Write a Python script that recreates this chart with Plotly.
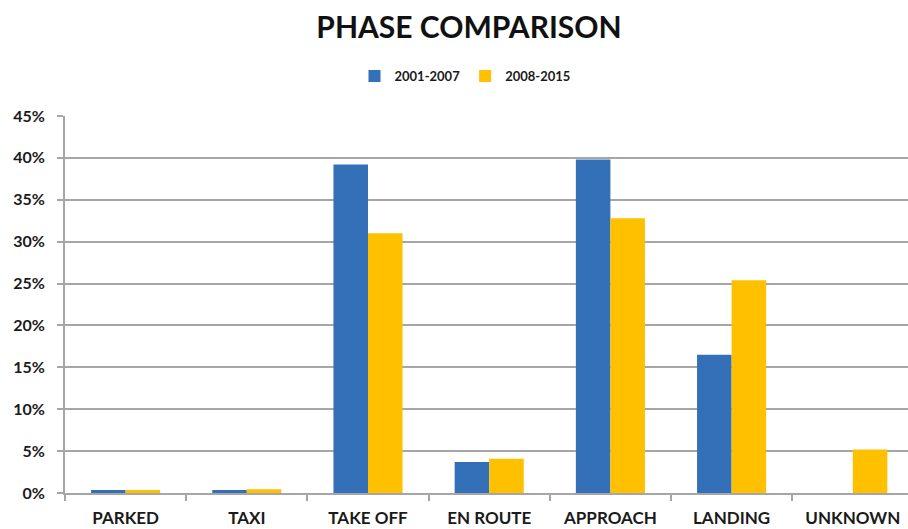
import plotly.graph_objects as go

categories = ["PARKED", "TAXI", "TAKE OFF", "EN ROUTE", "APPROACH", "LANDING", "UNKNOWN"]
series_2001_2007 = [0.35, 0.35, 39.2, 3.7, 39.8, 16.5, 0.0]
series_2008_2015 = [0.35, 0.45, 31.0, 4.1, 32.8, 25.4, 5.2]
y_ticks = [0, 5, 10, 15, 20, 25, 30, 35, 40, 45]
y_tick_labels = [f"{v}%" for v in y_ticks]

FONT = "Lato"
TXT = "#1a1a1a"

fig = go.Figure()
fig.add_trace(go.Bar(
    x=categories, y=series_2001_2007, name="2001-2007",
    marker=dict(color="#3470b8", line=dict(width=0)),
))
fig.add_trace(go.Bar(
    x=categories, y=series_2008_2015, name="2008-2015",
    marker=dict(color="#ffc000", line=dict(width=0)),
))

fig.update_layout(
    width=908, height=529,
    paper_bgcolor="white", plot_bgcolor="white",
    margin=dict(l=65, r=0, t=116, b=36, autoexpand=False),
    barmode="group", bargap=0.43, bargroupgap=0,
    font=dict(family=FONT, color=TXT),
    title=dict(
        text="<b>PHASE COMPARISON</b>",
        x=469 / 908, xref="container", xanchor="center",
        y=1 - 27 / 529, yref="container", yanchor="middle",
        font=dict(family=FONT, size=30, color="#111"),
    ),
    legend=dict(
        orientation="h",
        x=(465 - 65) / 843, xanchor="center",
        y=1 + (116 - 76) / 377, yanchor="middle",
        font=dict(family=FONT, size=13, color=TXT, weight="bold"),
        itemwidth=30, tracegroupgap=0,
        bgcolor="rgba(0,0,0,0)",
    ),
    showlegend=True,
)

fig.update_xaxes(
    range=[-0.5, -0.5 + 843 / 121.2],
    automargin=False,
    showgrid=False,
    showline=True, linecolor="#a6a6a6", linewidth=1.5,
    ticks="outside", ticklen=6, tickcolor="#a6a6a6", tickwidth=1.5,
    tickson="boundaries",
    ticklabelstandoff=9,
    tickfont=dict(family=FONT, size=17, color=TXT, weight="bold"),
    fixedrange=True,
)
fig.update_yaxes(
    range=[0, 45],
    automargin=False,
    tickvals=y_ticks, ticktext=y_tick_labels,
    showgrid=True, gridcolor="#a6a6a6", gridwidth=1.5,
    showline=True, linecolor="#a6a6a6", linewidth=2,
    ticks="outside", ticklen=6, tickcolor="#a6a6a6", tickwidth=1.5,
    ticklabelstandoff=9,
    tickfont=dict(family=FONT, size=16, color=TXT, weight="bold"),
    zeroline=False,
    fixedrange=True,
)

fig.write_html(
    "out.html",
    config={"displayModeBar": False},
    post_script="document.body.style.margin='0';document.body.style.overflow='hidden';",
)
